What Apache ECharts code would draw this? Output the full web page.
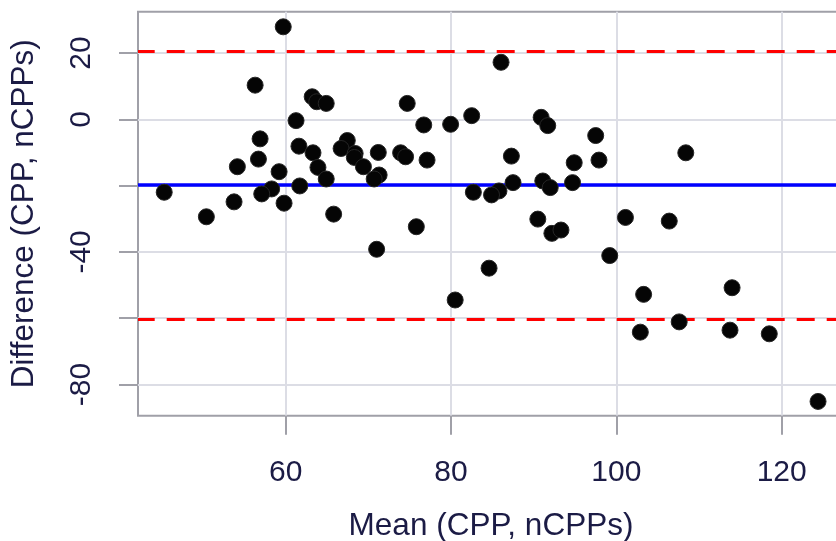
<!DOCTYPE html>
<html>
<head>
<meta charset="utf-8">
<script src="https://cdn.jsdelivr.net/npm/echarts@6/dist/echarts.min.js"></script>
<style>
	html, body { margin: 0; padding: 0; background: #fff; }
	#chart { width: 836px; height: 541px; }
</style>
</head>
<body>
<div id="chart"></div>
<script>
// mean of the two methods (x) and their difference (y)
var meanVals = [
	59.7, 56.3, 63.2, 63.75, 64.9, 74.7, 61.25, 76.7, 56.9, 61.6,
	67.45, 66.7, 63.3, 68.4, 71.2, 73.9, 74.5, 56.7, 54.15, 63.9,
	68.3, 69.4, 77.1, 59.2, 64.9, 71.3, 70.7, 45.3, 58.3, 57.1,
	61.7, 53.75, 59.8, 50.4, 65.8, 75.8, 71.0, 86.05, 79.95, 82.5,
	90.9, 91.7, 97.5, 87.3, 97.9, 94.9, 108.4, 87.5, 91.1, 92.0,
	94.7, 82.7, 85.8, 84.9, 90.5, 101.1, 106.4, 92.2, 93.3, 84.6,
	80.5, 99.2, 103.3, 114.0, 102.9, 107.6, 113.75, 118.5, 124.4
];
var diffVals = [
	27.9, 10.3, 6.8, 5.3, 4.8, 4.8, -0.4, -1.7, -5.9, -8.1,
	-6.4, -8.8, -10.1, -10.3, -10.0, -10.1, -11.3, -12.0, -14.3, -14.5,
	-11.5, -14.3, -12.3, -15.8, -18.0, -16.8, -18.0, -22.0, -21.0, -22.5,
	-20.1, -24.9, -25.3, -29.4, -28.6, -32.4, -39.2, 17.2, -1.5, 1.1,
	0.6, -1.9, -4.9, -11.1, -12.3, -13.1, -10.1, -19.1, -18.6, -20.6,
	-19.1, -22.0, -21.6, -22.8, -30.1, -29.6, -30.7, -34.4, -33.4, -44.9,
	-54.5, -41.1, -52.8, -50.8, -64.2, -61.1, -63.6, -64.7, -85.1
];
var meanDiff = -19.8;
var upperLoA = 20.6;
var lowerLoA = -60.2;

var xTicks = [60, 80, 100, 120];
var yTicks = [-80, -60, -40, -20, 0, 20];
var yLabels = [-80, -40, 0, 20];

var points = meanVals.map(function (m, i) { return [m, diffVals[i]]; });

var chart = echarts.init(document.getElementById('chart'));

var textColor = '#1b1b45';
var frameColor = '#a0a0a8';
var gridColor = '#dcdde5';

var option = {
	animation: false,
	textStyle: { fontFamily: 'Liberation Sans' },
	grid: {
		left: 138,
		top: 11.7,
		right: -8,
		bottom: 125.3,
		show: true,
		borderColor: frameColor,
		borderWidth: 2,
		containLabel: false,
		outerBoundsMode: 'none'
	},
	xAxis: {
		type: 'value',
		min: 42.13,
		max: 127.54,
		name: 'Mean (CPP, nCPPs)',
		nameLocation: 'middle',
		nameGap: 95,
		nameTextStyle: { fontSize: 31.5, color: textColor, fontFamily: 'Liberation Sans' },
		axisLine: { show: false, onZero: false },
		axisTick: { show: true, length: 19, customValues: xTicks, lineStyle: { color: frameColor, width: 2 } },
		axisLabel: { customValues: xTicks, margin: 42, fontSize: 30, color: textColor },
		splitLine: { show: true, lineStyle: { color: gridColor, width: 2 } }
	},
	yAxis: {
		type: 'value',
		min: -89.4,
		max: 32.46,
		name: 'Difference (CPP, nCPPs)',
		nameLocation: 'middle',
		nameGap: 98,
		nameTextStyle: { fontSize: 31.5, color: textColor, fontFamily: 'Liberation Sans' },
		axisLine: { show: false, onZero: false },
		axisTick: { show: true, length: 19, customValues: yTicks, lineStyle: { color: frameColor, width: 2 } },
		axisLabel: { customValues: yLabels, margin: 41, fontSize: 30, color: textColor, rotate: 90 },
		splitLine: { show: true, lineStyle: { color: gridColor, width: 2 } }
	},
	series: [
		{
			type: 'scatter',
			data: points,
			symbol: 'circle',
			symbolSize: 16,
			z: 3,
			itemStyle: { color: '#050505', borderColor: '#262626', borderWidth: 1, opacity: 1 },
			markLine: {
				silent: true,
				z: 1,
				symbol: 'none',
				label: { show: false },
				data: [
					{ yAxis: meanDiff, lineStyle: { color: '#0000ff', width: 3.5, type: 'solid' } },
					{ yAxis: upperLoA, lineStyle: { color: '#ff0000', width: 3, type: [18, 12], dashOffset: 1.3 } },
					{ yAxis: lowerLoA, lineStyle: { color: '#ff0000', width: 3, type: [18, 12], dashOffset: 1.3 } }
				]
			}
		}
	]
};

chart.setOption(option);
</script>
</body>
</html>
